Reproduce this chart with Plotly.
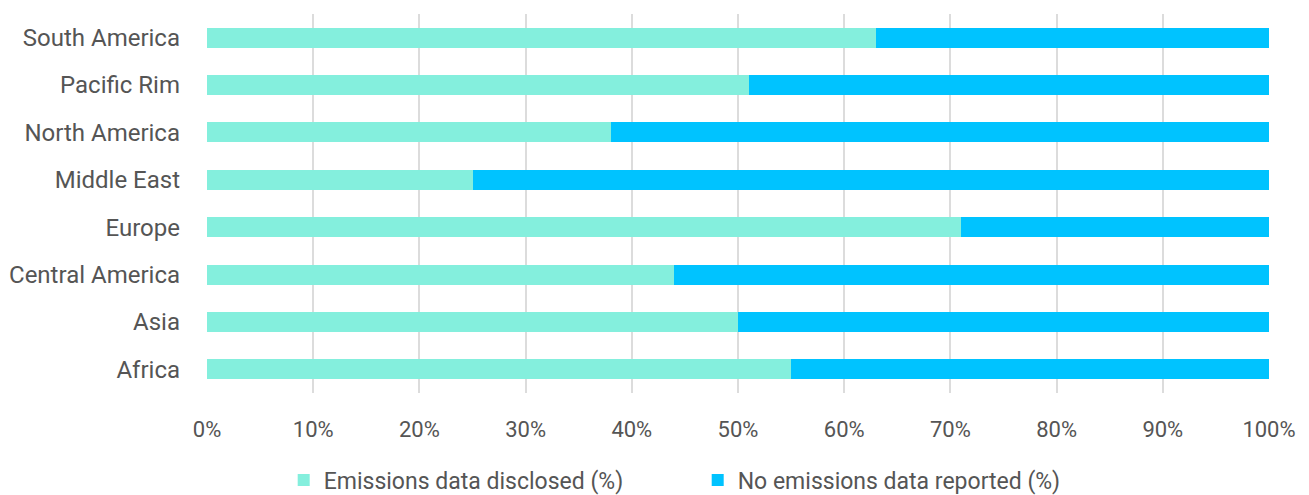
import plotly.graph_objects as go

# Regions, listed bottom-to-top as plotted on the category axis
regions = ["Africa", "Asia", "Central America", "Europe",
           "Middle East", "North America", "Pacific Rim", "South America"]
disclosed = [55, 50, 44, 71, 25, 38, 51, 63]
not_reported = [45, 50, 56, 29, 75, 62, 49, 37]

x_ticks = [0, 10, 20, 30, 40, 50, 60, 70, 80, 90, 100]
x_tick_text = [f"{v}%" for v in x_ticks]

TEAL = "#84EFDD"
BLUE = "#00C3FF"
FONT = "Roboto, sans-serif"
TEXT_COLOR = "#555555"

fig = go.Figure()
fig.add_trace(go.Bar(
    y=regions, x=disclosed, orientation="h",
    name="Emissions data disclosed (%)",
    marker=dict(color=TEAL, line=dict(width=0)),
))
fig.add_trace(go.Bar(
    y=regions, x=not_reported, orientation="h",
    name="No emissions data reported (%)",
    marker=dict(color=BLUE, line=dict(width=0)),
))

fig.update_layout(
    barmode="stack",
    bargap=0.58,
    width=1309, height=495,
    margin=dict(l=207, r=40, t=14, b=102, autoexpand=False),
    paper_bgcolor="white",
    plot_bgcolor="white",
    font=dict(family=FONT, size=22, color=TEXT_COLOR),
    xaxis=dict(
        range=[0, 100],
        tickvals=x_ticks, ticktext=x_tick_text,
        showgrid=True, gridcolor="#dcdcdc", gridwidth=1.5,
        zeroline=False, showline=False,
        ticks="", ticklabelstandoff=21,
        tickfont=dict(size=22, color=TEXT_COLOR),
    ),
    yaxis=dict(
        categoryorder="array", categoryarray=regions,
        showgrid=False, zeroline=False, showline=False,
        ticks="", ticklabelstandoff=26,
        tickfont=dict(size=24, color=TEXT_COLOR),
    ),
    legend=dict(
        orientation="h",
        xref="container", yref="container",
        x=0.533, xanchor="center",
        y=0.030, yanchor="middle",
        font=dict(size=23, color=TEXT_COLOR),
        traceorder="normal",
        itemwidth=30,
        entrywidth=369,
    ),
    showlegend=True,
)

fig.write_html("out.html")
